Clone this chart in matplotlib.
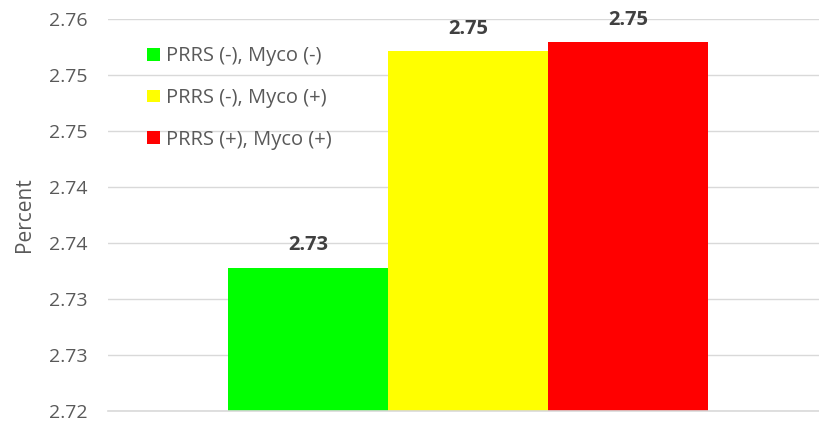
import matplotlib.pyplot as plt
from matplotlib.ticker import FuncFormatter

plt.rcParams['font.family'] = ['Open Sans', 'DejaVu Sans']

groups = ['PRRS (-), Myco (-)', 'PRRS (-), Myco (+)', 'PRRS (+), Myco (+)']
values = [2.7328, 2.7521, 2.7529]
colors = ['#00ff00', '#ffff00', '#ff0000']
y_ticks = [2.720, 2.725, 2.730, 2.735, 2.740, 2.745, 2.750, 2.755]

fig = plt.figure(figsize=(8.19, 4.21), dpi=100)
ax = fig.add_axes([108/819, 10/421, 711/819, 392.3/421])

xs = [-1, 0, 1]
for x, v, c, name in zip(xs, values, colors, groups):
    ax.bar(x, v - y_ticks[0], bottom=y_ticks[0], width=1.0, color=c, label=name, zorder=2)
    ax.text(x, v + 0.0011, f'{v:.2f}', ha='center', va='bottom',
            fontsize=14.5, fontweight='bold', color='#404040')

ax.set_xlim(-2.25, 2.194)
ax.set_ylim(y_ticks[0], y_ticks[-1])
ax.set_yticks(y_ticks)
# labels rounded half-up to two decimals
ax.yaxis.set_major_formatter(FuncFormatter(lambda v, p: f'{v + 1e-9:.2f}'))
ax.tick_params(axis='y', length=0, labelsize=14, labelcolor='#595959', pad=15)
ax.set_xticks([])
ax.grid(axis='y', color='#d9d9d9', lw=1, zorder=0)
for s in ['top', 'right', 'left']:
    ax.spines[s].set_visible(False)
ax.spines['bottom'].set_color('#d9d9d9')
ax.spines['bottom'].set_linewidth(1.2)

ax.set_ylabel('Percent', fontsize=15, color='#595959', labelpad=10)

ax.legend(loc='upper left', bbox_to_anchor=(0.041, 0.955), frameon=False,
          fontsize=14.5, labelcolor='#595959', handlelength=0.62, handleheight=0.6,
          handletextpad=0.3, labelspacing=1.08, borderpad=0)

fig.savefig('out.png', dpi=100)
